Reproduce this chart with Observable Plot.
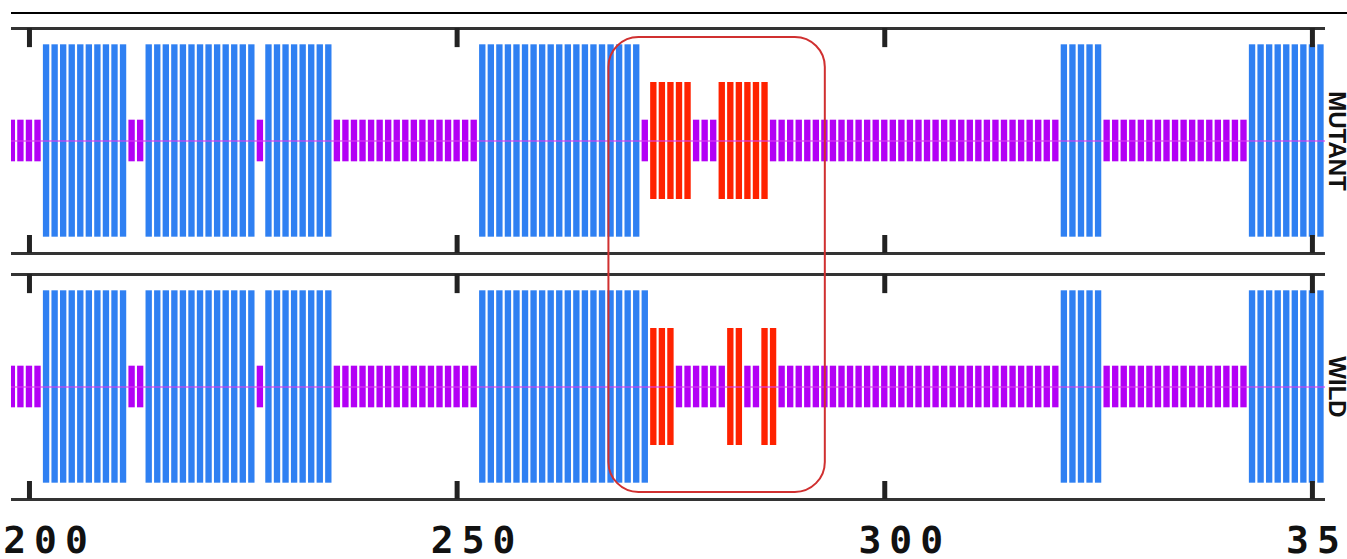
<!DOCTYPE html>
<html>
<head>
<meta charset="utf-8">
<script src="https://cdn.jsdelivr.net/npm/d3@7"></script>
<script src="https://cdn.jsdelivr.net/npm/@observablehq/plot@0.6"></script>
<style>
  html, body { margin: 0; padding: 0; background: #fff; }
  #wrap { position: relative; width: 1347px; height: 559px; overflow: hidden; }
  #topline { position: absolute; left: 11px; right: 0; top: 12px; height: 2px; background: #000; }
</style>
</head>
<body>
<div id="wrap"><div id="topline"></div></div>
<script>
// ---- data ----
const tracks = ["MUTANT", "WILD"];
// secondary-structure segments: [type, first residue, last residue]
// H = helix (blue), E = strand (red), C = coil (purple)
const mutantSegments = [
  ["C",198,201],["H",202,211],["C",212,213],["H",214,226],["C",227,227],
  ["H",228,235],["C",236,252],["H",253,271],["C",272,272],["E",273,277],
  ["C",278,280],["E",281,286],["C",287,320],["H",321,325],["C",326,342],
  ["H",343,351]
];
const wildSegments = [
  ["C",198,201],["H",202,211],["C",212,213],["H",214,226],["C",227,227],
  ["H",228,235],["C",236,252],["H",253,272],["E",273,275],["C",276,281],
  ["E",282,283],["C",284,285],["E",286,287],["C",288,320],["H",321,325],
  ["C",326,342],["H",343,351]
];
const tickValues = [200, 250, 300, 350];
const tickLabels = ["200", "250", "300", "350"];
const highlightRange = [267.75, 293.05];

// ---- build residue table ----
const rows = [];
for (const [track, segs] of [["MUTANT", mutantSegments], ["WILD", wildSegments]]) {
  for (const [ss, a, b] of segs) {
    for (let r = a; r <= b; r++) rows.push({track, residue: r, ss});
  }
}

const half = {H: 0.855, E: 0.52, C: 0.185};
const colors = {H: "#2f80f2", E: "#ff2200", C: "#b300f5"};

const barMarks = ["C", "H", "E"].map(ss =>
  Plot.rect(rows.filter(d => d.ss === ss), {
    x1: d => d.residue - 0.5,
    x2: d => d.residue + 0.5,
    y1: d => -half[d.ss],
    y2: d => half[d.ss],
    fy: "track",
    fill: colors[ss],
    insetLeft: 1.1,
    insetRight: 1.1,
    clip: true
  })
);

const plot = Plot.plot({
  width: 1347,
  height: 559,
  marginLeft: 11,
  marginRight: 22,
  marginTop: 28,
  marginBottom: 60,
  style: {background: "transparent", overflow: "visible"},
  x: {domain: [197.9, 351.53]},
  y: {domain: [-1, 1], axis: null},
  fy: {domain: tracks, paddingInner: 0.0854, paddingOuter: 0, axis: null},
  marks: [
    ...barMarks,
    Plot.ruleY([0], {stroke: "#d83cf2", strokeWidth: 1.5, strokeOpacity: 0.75, clip: true}),
    Plot.ruleY([-1, 1], {stroke: "#333", strokeWidth: 3}),
    Plot.ruleX(tickValues, {y1: 1, y2: 0.83, stroke: "#222", strokeWidth: 5}),
    Plot.ruleX(tickValues, {y1: -1, y2: -0.84, stroke: "#222", strokeWidth: 5}),
    Plot.rect([{track: "MUTANT"}], {
      x1: () => highlightRange[0], x2: () => highlightRange[1],
      y1: () => 0.92, y2: () => -3.124,
      fy: "track", rx: 30, fill: "none", stroke: "#d03030", strokeWidth: 2
    }),
    Plot.text(tracks, {
      fy: d => d, text: d => d, frameAnchor: "right", textAnchor: "middle",
      lineAnchor: "middle", rotate: 90, dx: 11,
      fontSize: 24, fontWeight: 900, fontFamily: "Liberation Sans", fill: "#111"
    }),
    Plot.axisX(tickValues, {
      tickSize: 0, tickPadding: 27, label: null,
      tickFormat: (d, i) => tickLabels[i],
      fontSize: 38, fontWeight: "bold", fontFamily: "DejaVu Sans Mono",
      dx: 20, fill: "#111"
    })
  ]
});

plot.querySelectorAll('g[aria-label="x-axis tick label"] text').forEach(t => {
  t.style.letterSpacing = "8px";
});

document.getElementById("wrap").prepend(plot);
</script>
</body>
</html>
